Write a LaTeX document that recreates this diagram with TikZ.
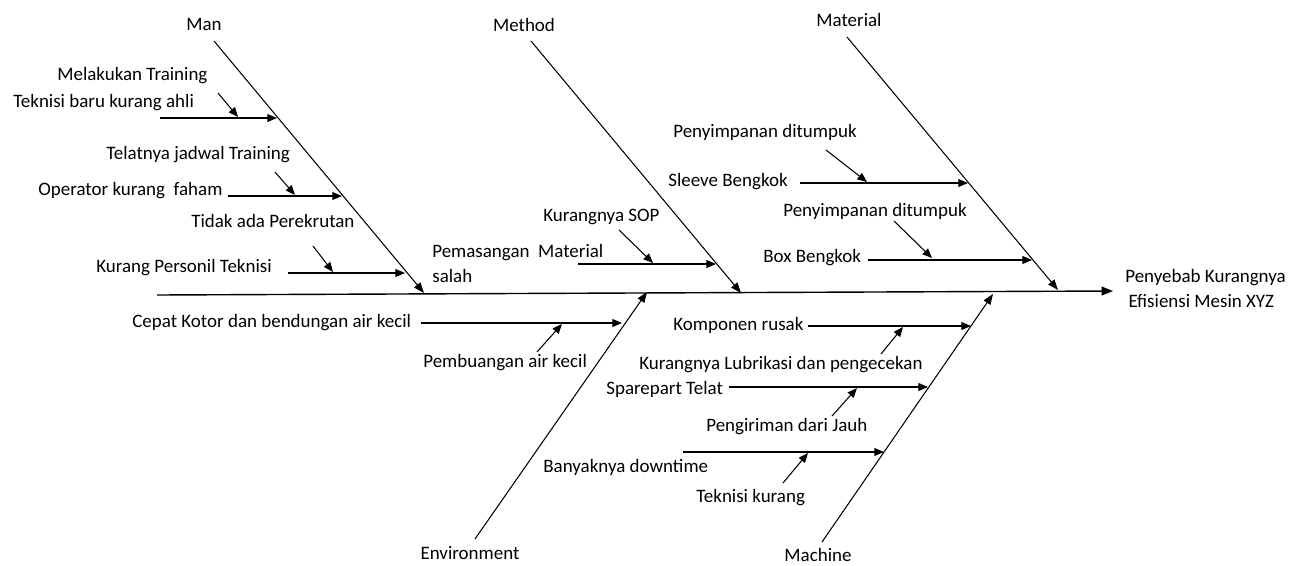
\documentclass[tikz,border=0pt]{standalone}
\usepackage{fontspec}
\setmainfont{Carlito}
\usetikzlibrary{arrows.meta}

\begin{document}
\begin{tikzpicture}[x=0.02cm,y=-0.02cm,
  lbl/.style={inner sep=0pt,font=\fontsize{10.8}{14}\selectfont},
  txt/.style={lbl,anchor=mid west},
  bone/.style={line width=0.6pt,-{Triangle[length=6pt,width=4.5pt]}},
  twig/.style={line width=0.6pt,-{Triangle[length=5.5pt,width=4.5pt]}}]
\useasboundingbox (0,0) rectangle (1301,565);
% spine and head
\coordinate (tail) at (157,295);
\coordinate (head) at (1113,291);
\node [lbl,anchor=north west,align=left] (eff) at (1125,269) {Penyebab Kurangnya\\\,Efisiensi Mesin XYZ};
\draw [line width=0.8pt,-{Triangle[length=6.5pt,width=5pt]}] (tail) -- (head);
% main bones
\node [lbl] (man) at (204,24) {Man};
\node [lbl] (met) at (524,25) {Method};
\node [lbl] (mat) at (849,20) {Material};
\node [lbl] (env) at (470,553) {Environment};
\node [lbl] (mac) at (818,555) {Machine};
\coordinate (manS) at (214,41);   \coordinate (manE) at (424,293);
\coordinate (metS) at (531,41);   \coordinate (metE) at (741,293);
\coordinate (matS) at (847,37);   \coordinate (matE) at (1058,290);
\coordinate (envS) at (475,539);  \coordinate (envE) at (647,292);
\coordinate (macS) at (822,542);  \coordinate (macE) at (993,294);
\draw [bone] (manS) -- (manE);
\draw [bone] (metS) -- (metE);
\draw [bone] (matS) -- (matE);
\draw [bone] (envS) -- (envE);
\draw [bone] (macS) -- (macE);
% man
\node [txt] (m1a) at (57,76) {Melakukan Training};
\node [txt] (m1) at (13,103) {Teknisi baru kurang ahli};
\node [txt] (m2a) at (106,155) {Telatnya jadwal Training};
\node [txt] (m2) at (38,191) {Operator kurang\ \ faham};
\node [txt] (m3a) at (191,223) {Tidak ada Perekrutan};
\node [txt] (m3) at (96,268) {Kurang Personil Teknisi};
\coordinate (m1s) at (160,118);  \coordinate (m1e) at (277,118);
\coordinate (m1d) at (218,93);   \coordinate (m1f) at (238,117);
\coordinate (m2s) at (228,196);  \coordinate (m2e) at (342,196);
\coordinate (m2d) at (275,172);  \coordinate (m2f) at (295,195);
\coordinate (m3s) at (288,273);  \coordinate (m3e) at (405,273);
\coordinate (m3d) at (313,246);  \coordinate (m3f) at (333,272);
\draw [twig] (m1s) -- (m1e);
\draw [twig] (m1d) -- (m1f);
\draw [twig] (m2s) -- (m2e);
\draw [twig] (m2d) -- (m2f);
\draw [twig] (m3s) -- (m3e);
\draw [twig] (m3d) -- (m3f);
% method
\node [txt] (t1a) at (543,217) {Kurangnya SOP};
\node [lbl,anchor=north west,align=left] (t1) at (432,244) {Pemasangan\ \ Material\\salah};
\coordinate (t1s) at (578,264);  \coordinate (t1e) at (716,264);
\coordinate (t1d) at (619,230);  \coordinate (t1f) at (653,263);
\draw [twig] (t1s) -- (t1e);
\draw [twig] (t1d) -- (t1f);
% material
\node [txt] (a1a) at (673,133) {Penyimpanan ditumpuk};
\node [txt] (a1) at (668,182) {Sleeve Bengkok};
\node [txt] (a2a) at (783,212) {Penyimpanan ditumpuk};
\node [txt] (a2) at (763,258) {Box Bengkok};
\coordinate (a1s) at (800,183);  \coordinate (a1e) at (968,183);
\coordinate (a1d) at (826,150);  \coordinate (a1f) at (867,182);
\coordinate (a2s) at (868,260);  \coordinate (a2e) at (1032,260);
\coordinate (a2d) at (894,221);  \coordinate (a2f) at (932,258);
\draw [twig] (a1s) -- (a1e);
\draw [twig] (a1d) -- (a1f);
\draw [twig] (a2s) -- (a2e);
\draw [twig] (a2d) -- (a2f);
% environment
\node [txt] (e1) at (132,323) {Cepat Kotor dan bendungan air kecil};
\node [txt] (e1a) at (423,363) {Pembuangan air kecil};
\coordinate (e1s) at (421,323);  \coordinate (e1e) at (622,323);
\coordinate (e1d) at (537,352);  \coordinate (e1f) at (562,324);
\draw [twig] (e1s) -- (e1e);
\draw [twig] (e1d) -- (e1f);
% machine
\node [txt] (k1) at (673,326) {Komponen rusak};
\node [txt] (k2a) at (639,365) {Kurangnya Lubrikasi dan pengecekan};
\node [txt] (k2) at (606,390) {Sparepart Telat};
\node [txt] (k3a) at (706,427) {Pengiriman dari Jauh};
\node [txt] (k3) at (543,468) {Banyaknya downtime};
\node [txt] (k3b) at (696,498) {Teknisi kurang};
\coordinate (k1s) at (808,326);  \coordinate (k1e) at (971,326);
\coordinate (k1d) at (881,354);  \coordinate (k1f) at (903,327);
\coordinate (k2s) at (729,387);  \coordinate (k2e) at (928,387);
\coordinate (k2d) at (832,416);  \coordinate (k2f) at (857,388);
\coordinate (k3s) at (683,452);  \coordinate (k3e) at (884,452);
\coordinate (k3d) at (783,483);  \coordinate (k3f) at (808,453);
\draw [twig] (k1s) -- (k1e);
\draw [twig] (k1d) -- (k1f);
\draw [twig] (k2s) -- (k2e);
\draw [twig] (k2d) -- (k2f);
\draw [twig] (k3s) -- (k3e);
\draw [twig] (k3d) -- (k3f);
\end{tikzpicture}
\end{document}
